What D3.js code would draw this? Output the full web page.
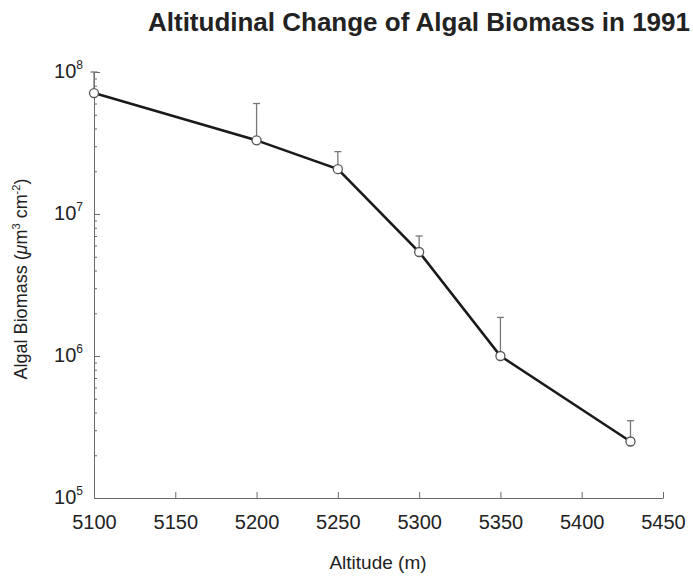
<!DOCTYPE html>
<html>
<head>
<meta charset="utf-8">
<script src="https://cdn.jsdelivr.net/npm/d3@7"></script>
<style>
  html, body { margin: 0; padding: 0; background: #fff; }
  svg { display: block; }
  text { font-family: "Liberation Sans", Arial, Helvetica, sans-serif; fill: #222; }
</style>
</head>
<body>
<svg id="chart" width="693" height="576"></svg>
<script>
// Algal biomass along the altitude gradient, 1991
const altitudes = [5100, 5200, 5250, 5300, 5350, 5430];
const biomass   = [7.1e7, 3.3e7, 2.07e7, 5.4e6, 1.0e6, 2.5e5];
const errorTop  = [1.0e8, 6.0e7, 2.75e7, 7.0e6, 1.87e6, 3.5e5];
const xTicks = [5100, 5150, 5200, 5250, 5300, 5350, 5400, 5450];
const yExponents = [5, 6, 7, 8];

const svg = d3.select("#chart");

const x = d3.scaleLinear().domain([5100, 5450]).range([94, 663]);
const y = d3.scaleLog().domain([1e5, 1e8]).range([498, 72]);

const axisColor = "#6a6a6a";

// Title
svg.append("text")
  .attr("x", 148).attr("y", 31)
  .attr("font-size", 26).attr("font-weight", "bold")
  .attr("textLength", 542).attr("lengthAdjust", "spacing")
  .text("Altitudinal Change of Algal Biomass in 1991");

// X axis (ticks pointing up into the plot)
const xAxis = svg.append("g").attr("transform", `translate(0,${y(1e5)})`)
  .call(d3.axisBottom(x).tickValues(xTicks).tickSizeInner(-6).tickSizeOuter(0)
    .tickFormat(d3.format("d")));
xAxis.select(".domain").attr("stroke", axisColor);
xAxis.selectAll(".tick line").attr("stroke", axisColor);
xAxis.selectAll(".tick text")
  .attr("font-size", 20).attr("font-family", "Liberation Sans, Arial, sans-serif")
  .attr("fill", "#222").attr("dy", "0.71em").attr("y", 17);

// Y axis: log scale, major ticks at decades, minor ticks at 2..9
const minorTicks = [];
for (let e = 5; e < 8; e++) for (let m = 2; m <= 9; m++) minorTicks.push(m * Math.pow(10, e));

const yAxisMinor = svg.append("g").attr("transform", `translate(${x(5100)},0)`)
  .call(d3.axisLeft(y).tickValues(minorTicks).tickSizeInner(-3).tickSizeOuter(0).tickFormat(""));
yAxisMinor.select(".domain").attr("stroke", axisColor);
yAxisMinor.selectAll(".tick line").attr("stroke", axisColor);

const yAxisMajor = svg.append("g").attr("transform", `translate(${x(5100)},0)`)
  .call(d3.axisLeft(y).tickValues(yExponents.map(e => Math.pow(10, e)))
    .tickSizeInner(-6).tickSizeOuter(0).tickFormat(""));
yAxisMajor.select(".domain").remove();
yAxisMajor.selectAll(".tick line").attr("stroke", axisColor);

// Decade labels as 10 with superscript exponent
const yLabels = svg.append("g");
yExponents.forEach(e => {
  const t = yLabels.append("text")
    .attr("x", 83).attr("y", y(Math.pow(10, e)) + 6)
    .attr("text-anchor", "end").attr("font-size", 20);
  t.append("tspan").text("10");
  t.append("tspan").attr("font-size", 12).attr("dy", -9).text(String(e));
});

// Axis titles
svg.append("text")
  .attr("x", 378).attr("y", 569)
  .attr("text-anchor", "middle").attr("font-size", 19)
  .text("Altitude (m)");

const yTitle = svg.append("text")
  .attr("transform", `translate(27,279) rotate(-90)`)
  .attr("text-anchor", "middle").attr("font-size", 18);
yTitle.append("tspan").text("Algal Biomass (");
yTitle.append("tspan").attr("font-style", "italic").text("μ");
yTitle.append("tspan").text("m");
yTitle.append("tspan").attr("font-size", 11).attr("dy", -7).text("3");
yTitle.append("tspan").attr("dy", 7).text(" cm");
yTitle.append("tspan").attr("font-size", 11).attr("dy", -7).text("-2");
yTitle.append("tspan").attr("dy", 7).text(")");

// Upper error bars with caps
const points = altitudes.map((a, i) => ({ a, v: biomass[i], hi: errorTop[i] }));
const err = svg.append("g").attr("stroke", "#777").attr("stroke-width", 1.3);
err.selectAll("line.bar").data(points).join("line").attr("class", "bar")
  .attr("x1", d => x(d.a)).attr("x2", d => x(d.a))
  .attr("y1", d => y(d.v)).attr("y2", d => y(d.hi));
err.selectAll("line.cap").data(points).join("line").attr("class", "cap")
  .attr("x1", d => x(d.a) - 3.5).attr("x2", d => x(d.a) + 3.5)
  .attr("y1", d => y(d.hi)).attr("y2", d => y(d.hi));

// Connecting line
svg.append("path").datum(points)
  .attr("fill", "none").attr("stroke", "#1a1a1a").attr("stroke-width", 2.6)
  .attr("d", d3.line().x(d => x(d.a)).y(d => y(d.v)));

// Open circle markers
svg.append("g").selectAll("circle").data(points).join("circle")
  .attr("cx", d => x(d.a)).attr("cy", d => y(d.v)).attr("r", 4.5)
  .attr("fill", "#fff").attr("stroke", "#555").attr("stroke-width", 1.3);
</script>
</body>
</html>
